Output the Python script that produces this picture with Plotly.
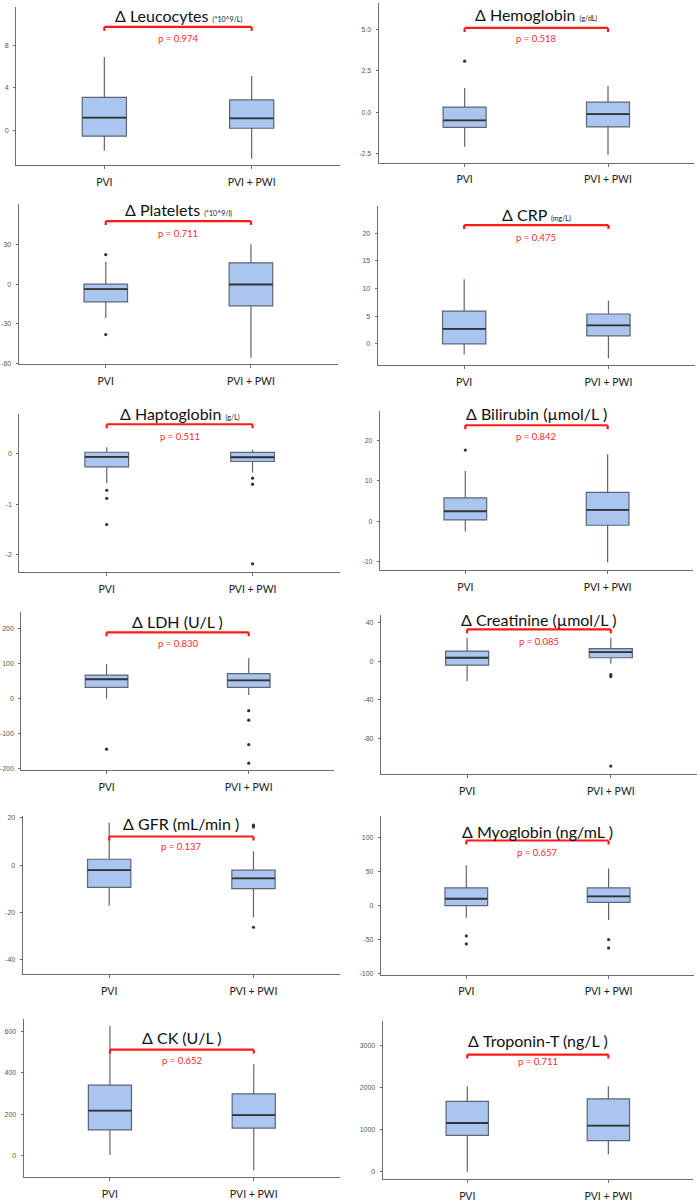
import plotly.graph_objects as go

W, H = 700, 1203

groups = ["PVI", "PVI + PWI"]
names = ["Leucocytes", "Hemoglobin", "Platelets", "CRP", "Haptoglobin", "Bilirubin",
         "LDH", "Creatinine", "GFR", "Myoglobin", "CK", "Troponin-T"]
units = ["(*10^9/L)", "(g/dL)", "(*10^9/l)", "(mg/L)", "(g/L)", "(µmol/L )",
         "(U/L )", "(µmol/L )", "(mL/min )", "(ng/mL )", "(U/L )", "(ng/L )"]
small_units = [True, True, True, True, True, False, False, False, False, False, False, False]
p_values = ["0.974", "0.518", "0.711", "0.475", "0.511", "0.842",
            "0.830", "0.085", "0.137", "0.657", "0.652", "0.711"]

q1 = [[-0.56, 0.19], [-0.93, -0.9], [-13.3, -16.3], [0, 1.44], [-0.256, -0.15], [0.33, -1.0],
      [33, 33], [-4.1, 3.4], [-9.4, -9.9], [0, 4.8], [124, 133], [859, 733]]
median = [[1.19, 1.12], [-0.5, -0.12], [-3.75, -0.3], [2.7, 3.36], [-0.06, -0.066], [2.47, 2.8],
          [56, 53], [3.4, 9.2], [-2.1, -5.6], [10.2, 13.6], [217, 196], [1153, 1090]]
q3 = [[3.09, 2.85], [0.30, 0.60], [0, 16], [5.94, 5.4], [0.033, 0.03], [5.76, 7.15],
      [68, 72], [10.3, 12.7], [2.5, -2.1], [26.2, 26.2], [341, 299], [1670, 1734]]
lower = [[-1.93, -2.69], [-2.1, -2.6], [-25.5, -55.5], [-1.9, -2.6], [-0.58, -0.37], [-2.56, -10.2],
         [1, 11], [-20.8, -2.7], [-17.1, -22], [-17.5, -21], [3, -71], [-16, 398]]
upper = [[6.9, 5.1], [1.46, 1.58], [16.7, 30], [11.7, 7.8], [0.13, 0.09], [12.4, 16.6],
         [100, 117], [24, 24], [17.9, 5.9], [59.2, 54.4], [627, 442], [2037, 2037]]

outlier_pvi = [[], [3.08], [22.2, -38], [], [-0.72, -0.88, -1.4], [17.6],
               [-144], [], [], [-44.3, -56], [], []]
outlier_pwi = [[], [], [], [], [-0.48, -0.6, -2.18], [],
               [-34, -61, -131, -184], [-14, -16, -108], [16.9, 16.1, -26.2], [-49.6, -61.8], [], []]

y_ranges = [[-3.3, 11.6], [-3.06, 6.6], [-60.5, 60.2], [-3.85, 24.9], [-2.34, 0.8], [-12.05, 27.2],
            [-205, 248], [-116.6, 46.9], [-45.9, 20.8], [-101, 131.6], [-106, 659], [-198, 3597]]
y_ticks = [[0, 4, 8], [-2.5, 0, 2.5, 5], [-60, -30, 0, 30], [0, 5, 10, 15, 20], [-2, -1, 0], [-10, 0, 10, 20],
           [-200, -100, 0, 100, 200], [-80, -40, 0, 40], [-40, -20, 0, 20], [-100, -50, 0, 50, 100],
           [0, 200, 400, 600], [0, 1000, 2000, 3000]]
y_ticktext = [["0", "4", "8"], ["-2.5", "0.0", "2.5", "5.0"], ["-60", "-30", "0", "30"],
              ["0", "5", "10", "15", "20"], ["-2", "-1", "0"], ["-10", "0", "10", "20"],
              ["-200", "-100", "0", "100", "200"], ["-80", "-40", "0", "40"], ["-40", "-20", "0", "20"],
              ["-100", "-50", "0", "50", "100"], ["0", "200", "400", "600"], ["0", "1000", "2000", "3000"]]

# panel geometry in pixels: left, right, top, bottom of plot area
boxes_px = [(14, 339, 5, 164), (377.7, 694, 1, 161.3),
            (16.7, 337, 203, 364), (376.7, 695, 205, 364.7),
            (17.3, 339, 413.3, 572.3), (379, 693, 411, 570.3),
            (19.3, 333, 612.7, 771.7), (380, 697, 616, 775.7),
            (20.7, 339, 817.3, 976), (380, 694, 817.3, 976.7),
            (21.7, 339, 1021.7, 1180.3), (381.7, 693, 1023.3, 1182.3)]
# title y, bracket y, p-text y (pixels)
title_px = [14, 13, 208, 213, 413, 413, 622, 620, 825, 833, 1040, 1043]
bracket_px = [25, 26, 220, 224, 424, 425, 633, 630, 838, 842, 1052, 1057]
ptext_px = [37, 37, 232, 236, 436, 436, 644, 642, 848, 854, 1063, 1064]

FILL = "#a9c5f0"
EDGE = "#5f6570"
AXIS = "#6e6e6e"

fig = go.Figure()
layout = dict(width=W, height=H, margin=dict(l=0, r=0, t=0, b=0),
              paper_bgcolor="white", plot_bgcolor="white", showlegend=False)
shapes = []
annotations = []

for i in range(12):
    n = i + 1
    xa = "x" if n == 1 else f"x{n}"
    ya = "y" if n == 1 else f"y{n}"
    L, R, T, B = boxes_px[i]
    layout[f"xaxis{'' if n == 1 else n}"] = dict(
        domain=[L / W, R / W], anchor=ya, type="category", categoryorder="array",
        categoryarray=groups, range=[-0.6, 1.6], showline=True, linecolor=AXIS, linewidth=1,
        ticks="outside", ticklen=3, tickcolor=AXIS, showgrid=False, zeroline=False,
        tickfont=dict(family="Lato", size=10.5, color="#222"), ticklabelstandoff=4)
    layout[f"yaxis{'' if n == 1 else n}"] = dict(
        domain=[1 - B / H, 1 - T / H], anchor=xa, range=y_ranges[i], showline=True,
        linecolor=AXIS, linewidth=1, ticks="outside", ticklen=2, tickcolor=AXIS,
        showgrid=False, zeroline=False, tickvals=y_ticks[i], ticktext=y_ticktext[i],
        tickfont=dict(family="Liberation Sans", size=7, color="#555"), ticklabelstandoff=3)

    fig.add_trace(go.Box(
        x=groups, q1=q1[i], median=median[i], q3=q3[i], lowerfence=lower[i], upperfence=upper[i],
        xaxis=xa, yaxis=ya, width=0.3, whiskerwidth=0, boxpoints=False,
        fillcolor=FILL, line=dict(color=EDGE, width=1.2), hoverinfo="skip"))
    # thicker median line
    fig.add_trace(go.Box(
        x=groups, q1=median[i], median=median[i], q3=median[i], lowerfence=median[i],
        upperfence=median[i], xaxis=xa, yaxis=ya, width=0.3, whiskerwidth=0, boxpoints=False,
        fillcolor="rgba(0,0,0,0)", line=dict(color="#333", width=1.8), hoverinfo="skip"))
    ox = [groups[0]] * len(outlier_pvi[i]) + [groups[1]] * len(outlier_pwi[i])
    oy = outlier_pvi[i] + outlier_pwi[i]
    if oy:
        fig.add_trace(go.Scatter(x=ox, y=oy, mode="markers", xaxis=xa, yaxis=ya,
                                 marker=dict(color="#333", size=3.2), hoverinfo="skip"))

    # bracket
    yb = 1 - bracket_px[i] / H
    yt = 1 - (bracket_px[i] + 4) / H
    shapes.append(dict(type="line", xref=xa, yref="paper", x0=0, x1=1, y0=yb, y1=yb,
                       line=dict(color="#ff1a1a", width=2.2)))
    shapes.append(dict(type="line", xref=xa, yref="paper", x0=0, x1=0, y0=yb, y1=yt,
                       line=dict(color="#ff1a1a", width=2.2)))
    shapes.append(dict(type="line", xref=xa, yref="paper", x0=1, x1=1, y0=yb, y1=yt,
                       line=dict(color="#ff1a1a", width=2.2)))

    if small_units[i]:
        ttl = f"Δ {names[i]} <span style='font-size:7px'>{units[i]}</span>"
    else:
        ttl = f"Δ {names[i]} {units[i]}"
    annotations.append(dict(text=ttl, xref=xa, yref="paper", x=0.5, y=1 - title_px[i] / H,
                            showarrow=False, xanchor="center", yanchor="middle",
                            font=dict(family="Lato", size=16, color="#111")))
    annotations.append(dict(text=f"p = {p_values[i]}", xref=xa, yref="paper", x=0.5,
                            y=1 - ptext_px[i] / H, showarrow=False, xanchor="center",
                            yanchor="middle", font=dict(family="Lato", size=9.5, color="#ff2a2a")))

layout["shapes"] = shapes
layout["annotations"] = annotations
fig.update_layout(**layout)
fig.write_html("out.html")
